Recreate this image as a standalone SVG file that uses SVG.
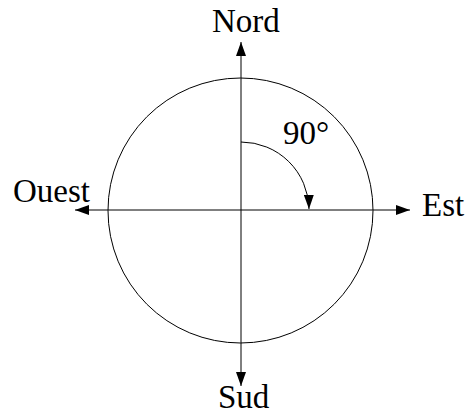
<svg xmlns="http://www.w3.org/2000/svg" width="469" height="414" viewBox="0 0 469 414">
<style>
.ln{stroke:#000;stroke-width:1;fill:none}
.t{font-family:"Liberation Serif","Times New Roman",serif;font-size:33px;fill:#000}
</style>
<defs>
<marker id="ah" markerWidth="14" markerHeight="10" refX="14" refY="5" orient="auto" markerUnits="userSpaceOnUse">
<path d="M0,0 L14,5 L0,10 Z" fill="#000"/>
</marker>
</defs>
<g id="circle"><circle class="ln" cx="240.5" cy="210.5" r="132.5"/></g>
<g id="connectors">
<line class="ln" x1="241" y1="210" x2="241" y2="42" marker-end="url(#ah)"/>
<line class="ln" x1="241" y1="210" x2="241" y2="386" marker-end="url(#ah)"/>
<line class="ln" x1="241" y1="210" x2="75" y2="210" marker-end="url(#ah)"/>
<line class="ln" x1="241" y1="210" x2="410" y2="210" marker-end="url(#ah)"/>
<path class="ln" d="M241,142 A68,68 0 0 1 309,209" marker-end="url(#ah)"/>
</g>
<g id="nord"><text class="t" x="212" y="32">Nord</text></g>
<g id="sud"><text class="t" x="218" y="408">Sud</text></g>
<g id="ouest"><text class="t" x="13" y="202">Ouest</text></g>
<g id="est"><text class="t" x="422" y="216">Est</text></g>
<g id="angle"><text class="t" x="283" y="144">90°</text></g>
</svg>
